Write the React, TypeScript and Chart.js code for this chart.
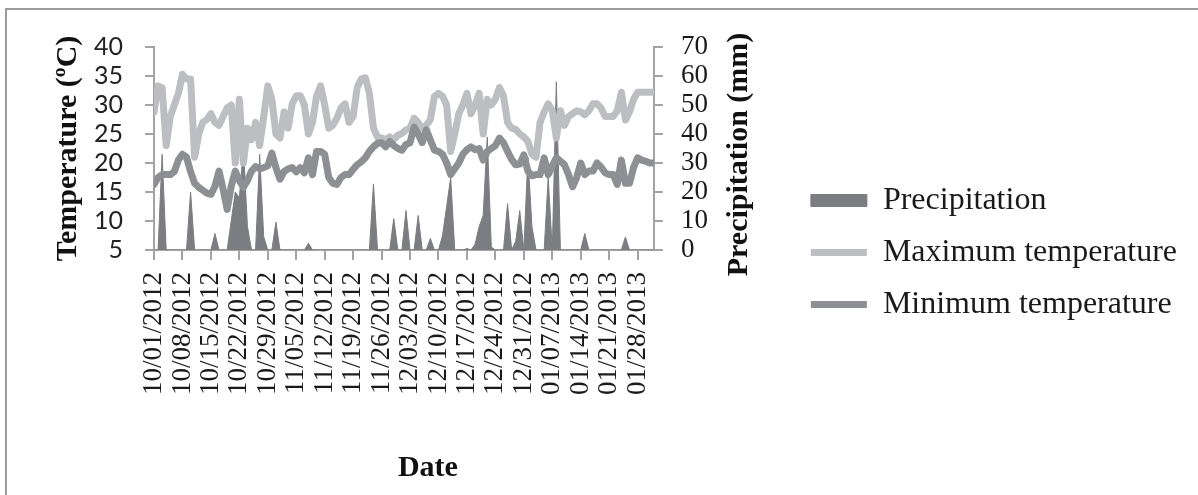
import React, { useEffect, useRef } from 'react';
import { Chart, registerables } from 'chart.js';

Chart.register(...registerables);

const dates: string[] = [
  '10/01/2012', '10/02/2012', '10/03/2012', '10/04/2012', '10/05/2012', '10/06/2012', '10/07/2012', '10/08/2012', '10/09/2012', '10/10/2012',
  '10/11/2012', '10/12/2012', '10/13/2012', '10/14/2012', '10/15/2012', '10/16/2012', '10/17/2012', '10/18/2012', '10/19/2012', '10/20/2012',
  '10/21/2012', '10/22/2012', '10/23/2012', '10/24/2012', '10/25/2012', '10/26/2012', '10/27/2012', '10/28/2012', '10/29/2012', '10/30/2012',
  '10/31/2012', '11/01/2012', '11/02/2012', '11/03/2012', '11/04/2012', '11/05/2012', '11/06/2012', '11/07/2012', '11/08/2012', '11/09/2012',
  '11/10/2012', '11/11/2012', '11/12/2012', '11/13/2012', '11/14/2012', '11/15/2012', '11/16/2012', '11/17/2012', '11/18/2012', '11/19/2012',
  '11/20/2012', '11/21/2012', '11/22/2012', '11/23/2012', '11/24/2012', '11/25/2012', '11/26/2012', '11/27/2012', '11/28/2012', '11/29/2012',
  '11/30/2012', '12/01/2012', '12/02/2012', '12/03/2012', '12/04/2012', '12/05/2012', '12/06/2012', '12/07/2012', '12/08/2012', '12/09/2012',
  '12/10/2012', '12/11/2012', '12/12/2012', '12/13/2012', '12/14/2012', '12/15/2012', '12/16/2012', '12/17/2012', '12/18/2012', '12/19/2012',
  '12/20/2012', '12/21/2012', '12/22/2012', '12/23/2012', '12/24/2012', '12/25/2012', '12/26/2012', '12/27/2012', '12/28/2012', '12/29/2012',
  '12/30/2012', '12/31/2012', '01/01/2013', '01/02/2013', '01/03/2013', '01/04/2013', '01/05/2013', '01/06/2013', '01/07/2013', '01/08/2013',
  '01/09/2013', '01/10/2013', '01/11/2013', '01/12/2013', '01/13/2013', '01/14/2013', '01/15/2013', '01/16/2013', '01/17/2013', '01/18/2013',
  '01/19/2013', '01/20/2013', '01/21/2013', '01/22/2013', '01/23/2013', '01/24/2013', '01/25/2013', '01/26/2013', '01/27/2013', '01/28/2013',
  '01/29/2013', '01/30/2013', '01/31/2013', '02/01/2013',
];

const maxTemperature: number[] = [
  28.8, 33.3, 33, 23, 28, 30, 32, 35.3, 34.5, 34.5,
  21, 25, 27, 27.5, 28.5, 27, 26.5, 28, 29.5, 30,
  20, 31, 20, 26, 24, 27, 23, 28, 33.3, 31,
  25, 24.3, 28.8, 26, 30.2, 31.6, 31.6, 30, 25, 27,
  31.5, 33.3, 30, 26, 26.5, 27.7, 29.5, 30.2, 27, 28,
  33, 34.5, 34.7, 32, 26, 24.5, 24.3, 24, 24.5, 24,
  24.8, 25.1, 25.7, 26, 27.7, 27, 26, 26.5, 27.5, 31.5,
  32, 31.5, 30, 22, 25, 28.5, 30, 32, 28.5, 30,
  32, 25, 31, 30, 31, 33, 31.6, 27, 26, 25.8,
  25, 24.5, 23.7, 21.5, 21, 27, 28.8, 30.2, 29, 24.3,
  29, 26.5, 28, 28.5, 29, 28.8, 28.3, 29, 30.2, 30.2,
  29.5, 28, 28, 28, 29, 32.2, 27.4, 28.8, 31, 32.2,
  32.2, 32.2, 32.2, 32.2,
];

const minTemperature: number[] = [
  16.3, 17.5, 18, 18, 18, 18.5, 20.5, 21.5, 21, 18.5,
  16.5, 15.8, 15.3, 14.8, 14.6, 16, 18.6, 15.5, 12, 16,
  18.6, 17, 15.8, 17, 18.6, 19.4, 19, 19.2, 19.5, 21.7,
  19.2, 17.2, 18.5, 19, 19.2, 18.5, 19.2, 18.3, 20.9, 18,
  22, 22, 21.5, 17.5, 16.5, 16.3, 17.5, 18, 18, 18.9,
  19.7, 20.2, 20.9, 22, 22.8, 23.4, 23.5, 22.8, 23.7, 23,
  22.5, 22.2, 23.2, 23.5, 26.2, 25, 23.5, 25.7, 24, 22.2,
  22, 21.5, 20, 18, 19, 20, 21.5, 22.3, 22.8, 22.3,
  22.5, 20.5, 22, 22.5, 23, 24.3, 23.5, 22, 20.6, 19.7,
  19.8, 21.4, 18.6, 17.8, 18, 18, 20.9, 18, 19.5, 20.9,
  20.3, 19.7, 18, 15.9, 17.5, 20, 18, 18.6, 18.6, 20,
  19.3, 18.3, 18, 18, 16.3, 20.5, 16.5, 16.5, 19.2, 20.9,
  20.5, 20.3, 20, 20,
];

const precipitation: number[] = [
  0, 0, 33, 0, 0, 0, 0, 0, 0, 20,
  0, 0, 0, 0, 0, 5.7, 0, 0, 0, 10,
  20, 18, 35, 8, 0, 0, 33, 4.5, 0, 0,
  9.6, 0, 0, 0, 0, 0, 0, 0, 2.3, 0,
  0, 0, 0, 0, 0, 0, 0, 0, 0, 0,
  0, 0, 0, 0, 22.8, 0, 0, 0, 0, 10.8,
  0, 0, 13.6, 0, 0, 11.9, 0, 0, 4, 0,
  0, 5, 15, 25, 0, 0, 0, 0.5, 0, 2,
  8, 12, 39, 1, 0, 0, 0, 16, 0, 3,
  13.6, 0, 32, 8, 0, 0, 0, 25, 0, 58,
  0, 0, 0, 0, 0, 0, 5.7, 0, 0, 0,
  0, 0, 0, 0, 0, 0, 4.5, 0, 0, 0,
  0, 0, 0, 0,
];

const seriesNames = ['Precipitation', 'Maximum temperature', 'Minimum temperature'];
const xTitle = 'Date';
const yTitle = 'Temperature (ºC)';
const y2Title = 'Precipitation (mm)';

const AXIS = '#a3a3a3';
const SERIF = '"Liberation Serif", "Times New Roman", serif';

const titlesPlugin = {
  id: 'customTitles',
  afterDraw(chart: any) {
    const { ctx, chartArea } = chart;
    ctx.save();
    ctx.fillStyle = '#111111';
    ctx.font = `bold 30px ${SERIF}`;
    ctx.textAlign = 'center';
    ctx.textBaseline = 'middle';
    ctx.fillText(xTitle, (chartArea.left + chartArea.right) / 2 + 24, 458);
    ctx.translate(chartArea.right + 85, (chartArea.top + chartArea.bottom) / 2 + 6);
    ctx.rotate(-Math.PI / 2);
    ctx.fillText(y2Title, 0, 0);
    ctx.restore();
  },
};

export default function App() {
  const ref = useRef<HTMLCanvasElement | null>(null);

  useEffect(() => {
    if (!ref.current) return;
    const gridOpts = (len: number) => ({
      drawOnChartArea: false,
      drawTicks: true,
      tickLength: len,
      color: AXIS,
      lineWidth: 2,
    });
    const chart = new Chart(ref.current, {
      type: 'line',
      data: {
        datasets: [
          {
            label: seriesNames[0],
            data: precipitation.map((v, i) => ({ x: i, y: v })),
            yAxisID: 'y2',
            fill: 'origin',
            backgroundColor: '#7c7d81',
            borderColor: '#7c7d81',
            borderWidth: 1,
            pointRadius: 0,
            pointStyle: 'rect',
            tension: 0,
            order: 3,
          },
          {
            label: seriesNames[1],
            data: maxTemperature.map((v, i) => ({ x: i, y: v })),
            yAxisID: 'y',
            fill: false,
            borderColor: '#bdbec1',
            backgroundColor: '#bdbec1',
            borderWidth: 7,
            borderCapStyle: 'round',
            borderJoinStyle: 'round',
            pointRadius: 0,
            pointStyle: 'line',
            tension: 0,
            order: 2,
          },
          {
            label: seriesNames[2],
            data: minTemperature.map((v, i) => ({ x: i, y: v })),
            yAxisID: 'y',
            fill: false,
            borderColor: '#8e8f93',
            backgroundColor: '#8e8f93',
            borderWidth: 7,
            borderCapStyle: 'round',
            borderJoinStyle: 'round',
            pointRadius: 0,
            pointStyle: 'line',
            tension: 0,
            order: 1,
          },
        ],
      },
      options: {
        responsive: false,
        animation: false,
        layout: { padding: { left: 0, right: 11, top: 0, bottom: 0 } },
        plugins: {
          tooltip: { enabled: false },
          title: { display: false },
          legend: {
            position: 'right',
            align: 'center',
            maxWidth: 600,
            labels: {
              usePointStyle: true,
              pointStyleWidth: 56,
              boxHeight: 12,
              padding: 20,
              color: '#1a1a1a',
              font: { family: SERIF, size: 32 },
              sort: (a: any, b: any) => a.datasetIndex - b.datasetIndex,
            },
          },
        },
        scales: {
          x: {
            type: 'linear',
            position: 'bottom',
            min: 0,
            max: dates.length - 1,
            afterFit: (s: any) => { s.height = 245; },
            ticks: {
              stepSize: 7,
              autoSkip: false,
              includeBounds: false,
              minRotation: 90,
              maxRotation: 90,
              padding: 12,
              color: '#1a1a1a',
              font: { family: SERIF, size: 27 },
              callback: (v: any) => dates[Number(v)] ?? '',
            },
            grid: gridOpts(10),
            border: { color: AXIS, width: 2 },
          },
          y: {
            position: 'left',
            min: 5,
            max: 40,
            afterFit: (s: any) => { s.width = 147; },
            ticks: { stepSize: 5, autoSkip: false, padding: 22, color: '#222222', font: { family: 'Lato', size: 25 } },
            grid: gridOpts(9),
            border: { color: AXIS, width: 2 },
            title: {
              display: true,
              text: yTitle,
              color: '#111111',
              font: { family: SERIF, size: 30, weight: 'bold' },
              padding: { top: 43, bottom: 0 },
            },
          },
          y2: {
            position: 'right',
            min: 0,
            max: 70,
            afterFit: (s: any) => { s.width = 137; },
            ticks: { stepSize: 10, autoSkip: false, padding: 18, color: '#1a1a1a', font: { family: SERIF, size: 27 } },
            grid: gridOpts(9),
            border: { color: AXIS, width: 2 },
          },
        },
      },
      plugins: [titlesPlugin],
    } as any);
    return () => chart.destroy();
  }, []);

  return (
    <div
      style={{
        position: 'absolute',
        left: 5,
        top: 8,
        width: 1193,
        height: 487,
        borderTop: '2px solid #9c9c9c',
        borderLeft: '2px solid #9c9c9c',
        boxSizing: 'border-box',
        background: '#ffffff',
      }}
    >
      <canvas ref={ref} width={1191} height={485} style={{ display: 'block', width: 1191, height: 485 }} />
    </div>
  );
}
